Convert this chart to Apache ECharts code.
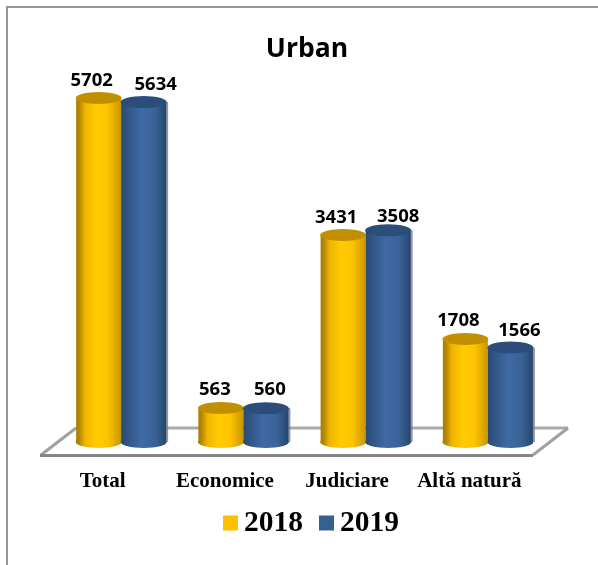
<!DOCTYPE html>
<html>
<head>
<meta charset="utf-8">
<style>html,body{margin:0;padding:0;background:#fff}#c{width:598px;height:565px}</style>
<script src="https://cdn.jsdelivr.net/npm/echarts@6/dist/echarts.min.js"></script>
</head>
<body>
<div id="c"></div>
<script>
const titleText = 'Urban';
const categories = ['Total', 'Economice', 'Judiciare', 'Altă natură'];
const values2018 = [5702, 563, 3431, 1708];
const values2019 = [5634, 560, 3508, 1566];
const labelOffset2018 = [[-7, -7.5], [-6, -8.5], [-7, -7.5], [-7, -8.5]];
const labelOffset2019 = [[12, -7.5], [4, -8.5], [10, -4.5], [9, -7]];
const BW = 45, EH = 12;

function cyl(stops) {
  return { type: 'linear', x: 0, y: 0, x2: 1, y2: 0,
    colorStops: stops.map(s => ({ offset: s[0], color: s[1] })) };
}
const yellowGrad = cyl([[0, '#a67c00'], [0.08, '#b88a00'], [0.2, '#f0b400'], [0.45, '#ffcc00'], [0.7, '#ffc400'], [0.9, '#dca500'], [1, '#c89500']]);
const blueGrad = cyl([[0, '#2a4a75'], [0.12, '#2f5483'], [0.45, '#3f6aa3'], [0.75, '#3a6297'], [0.92, '#2d4f7c'], [1, '#274468']]);

function barSeries(name, vals, offs, grad, shadow) {
  return {
    name, type: 'bar', data: vals.map((v, i) => ({ value: v, label: { offset: offs[i] } })),
    barWidth: BW, barGap: 0, z: 3,
    itemStyle: Object.assign({ color: grad }, shadow ? { shadowColor: 'rgba(110,125,145,0.8)', shadowOffsetX: 2, shadowBlur: 0 } : {}),
    label: { show: true, position: 'top', distance: 0, fontFamily: '"Open Sans","Noto Sans",sans-serif', fontWeight: 'bold', fontSize: 18.5, color: '#000' }
  };
}
function capSeries(name, vals, dx, color, pos, z) {
  return {
    name, type: 'pictorialBar', data: vals, symbol: 'circle', symbolSize: [BW + 1, EH],
    symbolPosition: pos, symbolOffset: [dx, pos === 'end' ? '-50%' : '50%'], z, silent: true,
    itemStyle: { color }, label: { show: false }
  };
}
const zeros = categories.map(() => 0);

const chart = echarts.init(document.getElementById('c'));
chart.setOption({
  animation: false,
  backgroundColor: '#fff',
  title: { text: titleText, left: 302, top: 31, textAlign: 'center',
    textStyle: { fontFamily: '"Open Sans","Noto Sans",sans-serif', fontWeight: 'bold', fontSize: 26.5, color: '#000' } },
  legend: {
    data: [{ name: '2018', itemStyle: { color: '#ffc000' } }, { name: '2019', itemStyle: { color: '#376092' } }],
    left: 223, top: 508, padding: 0, icon: 'rect', itemWidth: 15, itemHeight: 15, itemGap: 16, selectedMode: false,
    textStyle: { fontFamily: '"Liberation Serif",serif', fontWeight: 'bold', fontSize: 29.5, color: '#000', padding: [0, 0, 0, 1] }
  },
  grid: { left: 60, width: 489, top: 80, height: 362 },
  xAxis: { type: 'category', data: categories, axisLine: { show: false }, axisTick: { show: false },
    axisLabel: { interval: 0, margin: 29, padding: [0, 37, 0, 0], fontFamily: '"Liberation Serif",serif', fontWeight: 'bold', fontSize: 21, color: '#000' } },
  yAxis: { type: 'value', min: 0, max: 6000, show: false, splitLine: { show: false } },
  graphic: { elements: [
    { type: 'rect', silent: true, z: -1, shape: { x: 7, y: 7, width: 600, height: 600 }, style: { fill: 'none', stroke: '#969696', lineWidth: 2 } },
    { type: 'line', silent: true, z: 0, shape: { x1: 76, y1: 428, x2: 568, y2: 428 }, style: { stroke: '#aaaaaa', lineWidth: 3 } },
    { type: 'line', silent: true, z: 0, shape: { x1: 41, y1: 455, x2: 76, y2: 428 }, style: { stroke: '#a0a0a0', lineWidth: 3 } },
    { type: 'line', silent: true, z: 0, shape: { x1: 533, y1: 455, x2: 568, y2: 428 }, style: { stroke: '#a0a0a0', lineWidth: 3 } },
    { type: 'line', silent: true, z: 0, shape: { x1: 40, y1: 455.5, x2: 533, y2: 455.5 }, style: { stroke: '#868686', lineWidth: 3 } }
  ] },
  series: [
    capSeries('2018 base', zeros, -22.5, yellowGrad, 'start', 2),
    barSeries('2018', values2018, labelOffset2018, yellowGrad, false),
    capSeries('2018 top', values2018, -22.5, '#c09000', 'end', 4),
    capSeries('2019 base', zeros, 22.5, blueGrad, 'start', 2),
    barSeries('2019', values2019, labelOffset2019, blueGrad, true),
    capSeries('2019 top', values2019, 22.5, '#2c4d7a', 'end', 4)
  ]
});
</script>
</body>
</html>
